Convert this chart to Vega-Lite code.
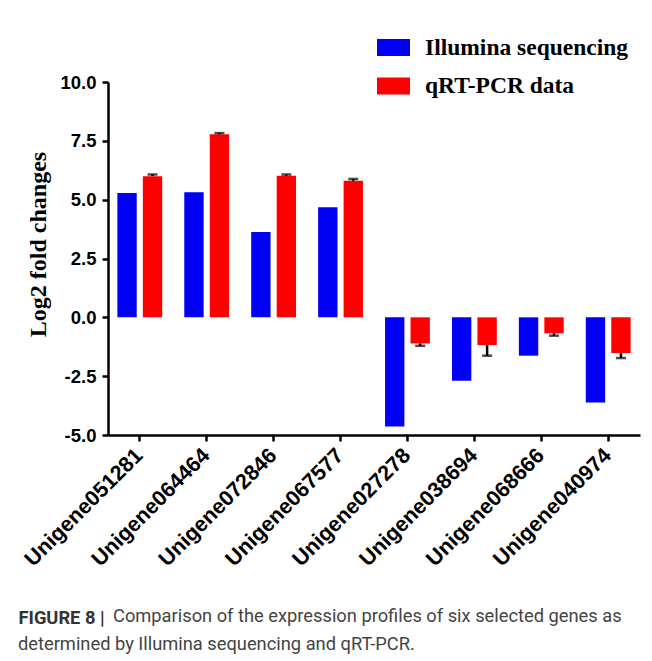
{
  "$schema": "https://vega.github.io/schema/vega-lite/v6.json",
  "width": 532,
  "height": 353,
  "autosize": {"type": "none"},
  "padding": {"left": 108, "top": 82, "right": 12, "bottom": 226},
  "background": "white",
  "title": {
    "text": "Comparison of the expression profiles of six selected genes as",
    "subtitle": "determined by Illumina sequencing and qRT-PCR.",
    "orient": "bottom",
    "anchor": "start",
    "frame": "group",
    "offset": -18,
    "font": "Roboto",
    "fontSize": 18.3,
    "fontWeight": "normal",
    "color": "#444444",
    "subtitleFont": "Roboto",
    "subtitleFontSize": 18.3,
    "subtitleFontWeight": "normal",
    "subtitleColor": "#444444",
    "subtitlePadding": 9
  },
  "data": {
    "values": [
      {"gene": "Unigene051281", "series": "Illumina sequencing", "value": 5.28},
      {"gene": "Unigene064464", "series": "Illumina sequencing", "value": 5.31},
      {"gene": "Unigene072846", "series": "Illumina sequencing", "value": 3.63},
      {"gene": "Unigene067577", "series": "Illumina sequencing", "value": 4.68},
      {"gene": "Unigene027278", "series": "Illumina sequencing", "value": -4.64},
      {"gene": "Unigene038694", "series": "Illumina sequencing", "value": -2.7},
      {"gene": "Unigene068666", "series": "Illumina sequencing", "value": -1.63},
      {"gene": "Unigene040974", "series": "Illumina sequencing", "value": -3.62},
      {"gene": "Unigene051281", "series": "qRT-PCR data", "value": 6.0, "errEnd": 6.07},
      {"gene": "Unigene064464", "series": "qRT-PCR data", "value": 7.78, "errEnd": 7.83},
      {"gene": "Unigene072846", "series": "qRT-PCR data", "value": 6.02, "errEnd": 6.07},
      {"gene": "Unigene067577", "series": "qRT-PCR data", "value": 5.8, "errEnd": 5.88},
      {"gene": "Unigene027278", "series": "qRT-PCR data", "value": -1.11, "errEnd": -1.21},
      {"gene": "Unigene038694", "series": "qRT-PCR data", "value": -1.18, "errEnd": -1.63},
      {"gene": "Unigene068666", "series": "qRT-PCR data", "value": -0.68, "errEnd": -0.78},
      {"gene": "Unigene040974", "series": "qRT-PCR data", "value": -1.52, "errEnd": -1.73}
    ]
  },
  "encoding": {
    "x": {
      "field": "gene",
      "type": "nominal",
      "sort": null,
      "scale": {"paddingInner": 0.33, "paddingOuter": 0.14},
      "axis": {
        "title": "FIGURE 8 |",
        "titleFont": "Roboto",
        "titleFontSize": 18.3,
        "titleFontWeight": "bold",
        "titleColor": "#333333",
        "titleAlign": "left",
        "titleAnchor": "start",
        "titleBaseline": "alphabetic",
        "titleX": -90,
        "titleY": 188,
        "labelAngle": -45,
        "labelAlign": "right",
        "labelBaseline": "middle",
        "labelFontSize": 21.5,
        "labelPadding": 11
      }
    },
    "xOffset": {
      "field": "series",
      "type": "nominal",
      "sort": ["Illumina sequencing", "qRT-PCR data"],
      "scale": {"paddingInner": 0.24, "paddingOuter": 0}
    }
  },
  "layer": [
    {
      "mark": {"type": "bar"},
      "encoding": {
        "y": {
          "field": "value",
          "type": "quantitative",
          "scale": {"domain": [-5, 10], "nice": false, "zero": false},
          "axis": {
            "title": "Log2 fold changes",
            "values": [-5, -2.5, 0, 2.5, 5, 7.5, 10],
            "labelExpr": "replace(format(datum.value, '.1f'), '\u2212', '-')",
            "labelFontSize": 18.5,
            "labelPadding": 6,
            "titleFont": "Liberation Serif",
            "titleFontSize": 24,
            "titleFontWeight": "bold",
            "titleColor": "black",
            "titlePadding": 9,
            "titleY": 162
          }
        },
        "color": {
          "field": "series",
          "type": "nominal",
          "scale": {
            "domain": ["Illumina sequencing", "qRT-PCR data"],
            "range": ["#0000F5", "#FF0000"]
          },
          "legend": {
            "orient": "none",
            "legendX": 269,
            "legendY": -51,
            "title": null,
            "symbolType": "M-1,-0.515H1V0.515H-1Z",
            "symbolSize": 1089,
            "symbolStrokeWidth": 0,
            "symbolOpacity": 1,
            "labelFont": "Liberation Serif",
            "labelFontSize": 23.5,
            "labelFontWeight": "bold",
            "labelColor": "black",
            "labelOffset": 15,
            "labelLimit": 320,
            "rowPadding": 10.5
          }
        }
      }
    },
    {
      "transform": [{"filter": "isValid(datum.errEnd)"}],
      "mark": {"type": "rule", "color": "black", "strokeWidth": 2.5},
      "encoding": {
        "y": {"field": "value", "type": "quantitative", "title": "Log2 fold changes"},
        "y2": {"field": "errEnd"}
      }
    },
    {
      "transform": [{"filter": "isValid(datum.errEnd)"}],
      "mark": {"type": "tick", "color": "black", "thickness": 2.5, "size": 10},
      "encoding": {
        "y": {"field": "errEnd", "type": "quantitative", "title": "Log2 fold changes"}
      }
    },
    {
      "mark": {"type": "rule", "color": "black", "strokeWidth": 2.5},
      "encoding": {"y": {"datum": 0}}
    }
  ],
  "config": {
    "view": {"stroke": null},
    "style": {
      "group-title": {"dx": 5},
      "group-subtitle": {"dx": -90}
    },
    "axis": {
      "grid": false,
      "domainColor": "black",
      "domainWidth": 2.5,
      "tickColor": "black",
      "tickWidth": 2.5,
      "tickSize": 6,
      "labelColor": "black",
      "labelFont": "Liberation Sans",
      "labelFontWeight": "bold"
    }
  }
}
